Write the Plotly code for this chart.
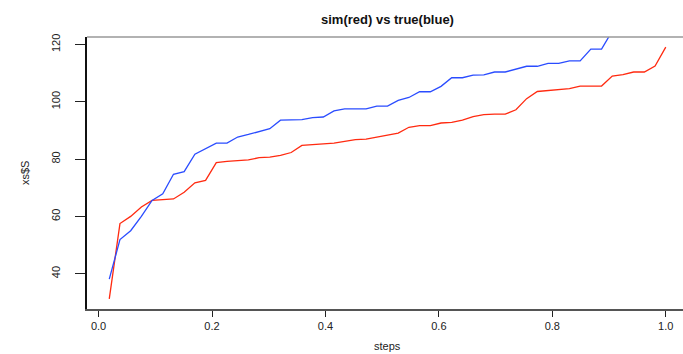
import plotly.graph_objects as go

# Data (53 steps, x = i/53)
n_steps = 53
steps = [i / n_steps for i in range(1, n_steps + 1)]

sim_red = [31.2, 57.5, 60.0, 63.3, 65.6, 65.8, 66.1, 68.4, 71.7, 72.6,
           78.8, 79.2, 79.5, 79.7, 80.5, 80.7, 81.3, 82.3, 84.8, 85.0,
           85.4, 85.6, 86.2, 86.8, 87.0, 87.7, 88.2, 89.1, 91.1, 91.7,
           91.7, 92.6, 92.8, 93.6, 94.8, 95.5, 95.7, 95.7, 97.2, 101.1,
           103.6, 104.0, 104.2, 104.6, 105.5, 105.5, 105.5, 109.0, 109.5, 110.4,
           110.4, 112.5, 119.1]

true_blue = [38.1, 51.9, 55.0, 60.0, 65.6, 67.9, 74.7, 75.6, 81.7, 83.6,
             85.6, 85.6, 87.7, 88.6, 89.6, 90.6, 93.6, 93.7, 93.75, 94.5,
             94.7, 96.8, 97.5, 97.5, 97.5, 98.5, 98.5, 100.5, 101.5, 103.5,
             103.5, 105.4, 108.4, 108.4, 109.3, 109.4, 110.4, 110.4, 111.4, 112.4,
             112.4, 113.4, 113.4, 114.3, 114.3, 118.4, 118.4, 124.7, 127.0, 129.0,
             131.0, 134.0, 137.0]

x_ticks = [0.0, 0.2, 0.4, 0.6, 0.8, 1.0]
x_tick_labels = ["0.0", "0.2", "0.4", "0.6", "0.8", "1.0"]
y_ticks = [40, 60, 80, 100, 120]
y_tick_labels = ["40", "60", "80", "100", "120"]

W, H = 683, 354
L, R, T, B = 87, 0, 37, 45
FONT = "Liberation Sans, Arial, Helvetica, sans-serif"

# R-style axis limits (4% extension) based on the first (red) series
ymin, ymax = min(sim_red), max(sim_red)
yr = ymax - ymin
y_range = [ymin - 0.04 * yr, ymax + 0.04 * yr]
xmin, xmax = min(steps), max(steps)
xr = xmax - xmin
x_left = xmin - 0.04 * xr
# plot region cropped at the right edge of the picture
px_per_unit = 567.2
x_right = x_left + (W - L - R) / px_per_unit

fig = go.Figure()
fig.add_trace(go.Scatter(x=steps, y=sim_red, mode="lines",
                         line=dict(color="#ff2a10", width=1.3),
                         showlegend=False, cliponaxis=True))
fig.add_trace(go.Scatter(x=steps, y=true_blue, mode="lines",
                         line=dict(color="#2a4cff", width=1.3),
                         showlegend=False, cliponaxis=True))

fig.update_layout(
    width=W, height=H,
    margin=dict(l=L, r=R, t=T, b=B, pad=0),
    paper_bgcolor="white", plot_bgcolor="white",
    font=dict(family=FONT, size=11, color="#222"),
    title=dict(text="<b>sim(red) vs true(blue)</b>",
               font=dict(family=FONT, size=13, color="#111"),
               x=387.5 / W, xref="container", xanchor="center",
               y=1 - 19 / H, yref="container", yanchor="middle"),
    xaxis=dict(range=[x_left, x_right], tickvals=x_ticks, ticktext=x_tick_labels,
               showgrid=False, zeroline=False,
               showline=True, linecolor="#555", linewidth=2,
               ticks="outside", ticklen=6, tickwidth=1, tickcolor="#222",
               tickfont=dict(family=FONT, size=11, color="#222")),
    yaxis=dict(range=y_range, tickvals=y_ticks, ticktext=y_tick_labels,
               showgrid=False, zeroline=False,
               showline=True, linecolor="#111", linewidth=2,
               ticks="outside", ticklen=10, tickwidth=1, tickcolor="#222",
               tickangle=-90, ticklabelstandoff=11,
               tickfont=dict(family=FONT, size=11, color="#222")),
    shapes=[dict(type="line", xref="paper", yref="paper", x0=0, x1=1, y0=1, y1=1,
                 line=dict(color="#999", width=1.5))],
    annotations=[
        dict(text="steps", xref="paper", yref="paper",
             x=(387.5 - L) / (W - L - R), y=-(346 - (H - B)) / (H - T - B),
             xanchor="center", yanchor="middle", showarrow=False,
             font=dict(family=FONT, size=11, color="#222")),
        dict(text="xs$S", xref="paper", yref="paper",
             x=-(L - 25) / (W - L - R), y=0.5, textangle=-90,
             xanchor="center", yanchor="middle", showarrow=False,
             font=dict(family=FONT, size=11, color="#222")),
    ],
)

fig.write_html(
    "out.html",
    config={"displayModeBar": False},
    post_script="document.body.style.margin='0';document.body.style.padding='0';document.body.style.overflow='hidden';",
)
